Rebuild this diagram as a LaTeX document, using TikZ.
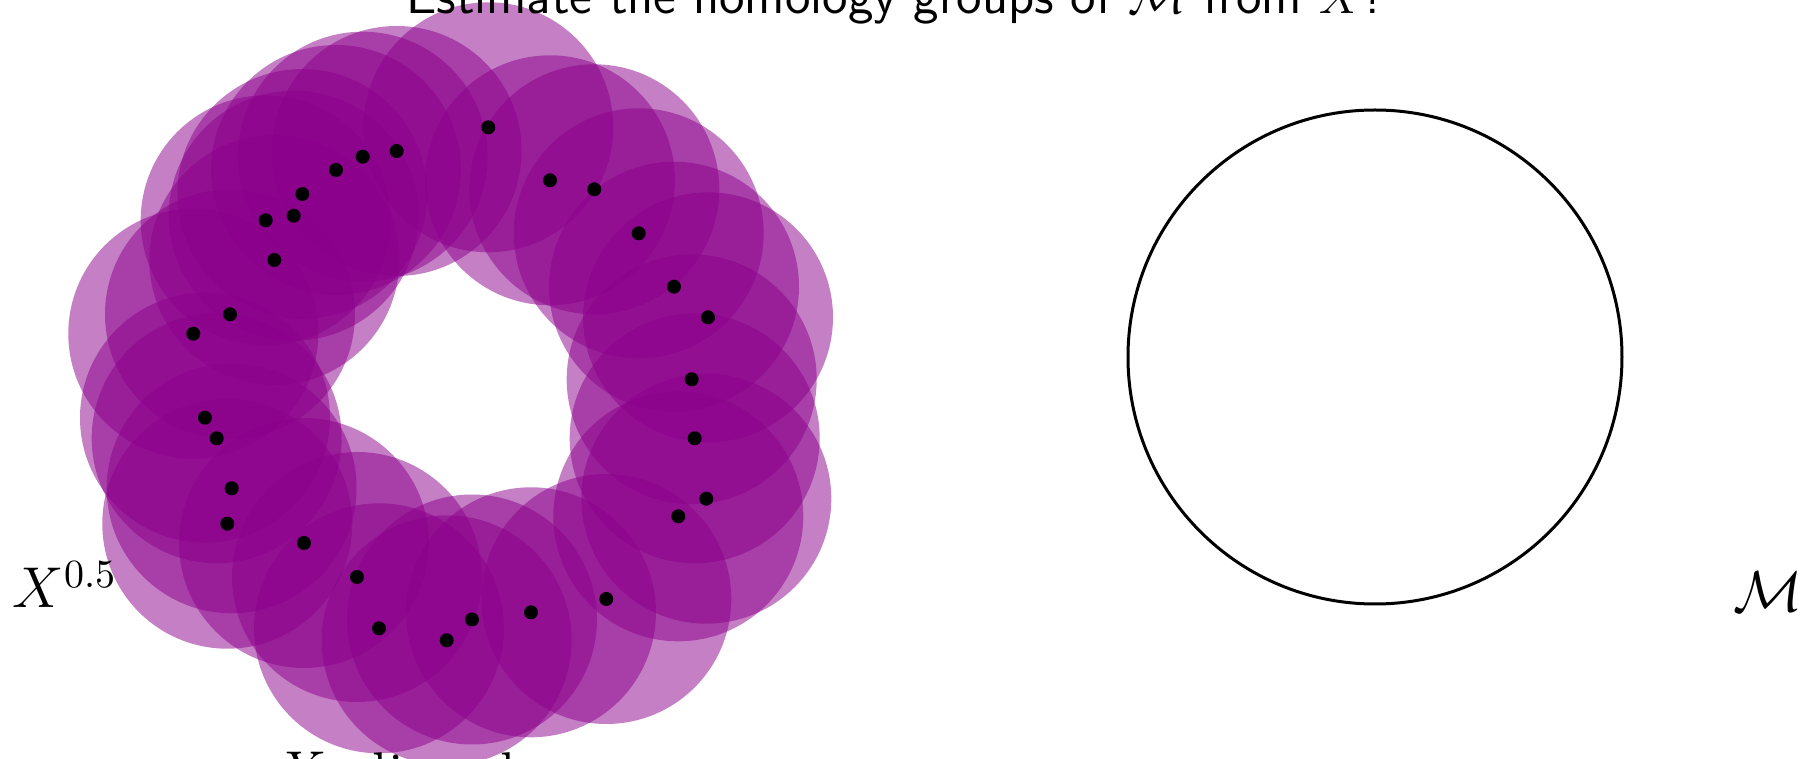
\documentclass[tikz,border=0pt]{standalone}
\definecolor{blobcol}{RGB}{139,0,139}
\tikzset{
  blob/.style={fill=blobcol, fill opacity=0.5},
  dotpt/.style={fill=black},
  lab/.style={inner sep=0pt, font=\fontsize{14}{16}\selectfont},
}
\begin{document}
\begin{tikzpicture}[x=0.25pt,y=-0.25pt]
\useasboundingbox (0,0) rectangle (1804,759);
\clip (0,0) rectangle (1804,759);
\def\pts{(488.3,127.3),(396.7,151),(362.7,156.7),(336,170),(302.3,194),(293.7,215.7),(265.7,220.3),(274.3,260),(230,314.3),(193.3,333.7),(205,417.7),(216.7,438.3),(231.7,488.3),(227.3,523.7),(304,543),(357,577),(379,628.3),(446.7,640.3),(472,619.5),(531,612.3),(606.3,599),(678.3,516.3),(706.3,498.7),(694.7,438.3),(691.7,379.3),(708,317.3),(674,286.7),(638.7,233.3),(594.3,189.3),(550,180.3)}
\foreach \p in \pts { \fill[blob] \p circle[radius=31.25pt]; }
\foreach \p in \pts { \fill[dotpt] \p circle[radius=1.75pt]; }
\draw[line width=0.75pt] (1375,357) circle[radius=61.75pt];
\node[anchor=base, inner sep=0pt, font=\sffamily\fontsize{13}{15}\selectfont] (title) at (896,14) {Estimate the homology groups of $\mathcal{M}$ from $X$?};
\node[lab, anchor=base west] (xlab) at (12,608) {$X^{0.5}$};
\node[lab, anchor=base west] (mlab) at (1733,612) {$\mathcal{M}$};
\node[lab, anchor=base west] (bot) at (275,792) {$X$ aligned};
\end{tikzpicture}
\end{document}
